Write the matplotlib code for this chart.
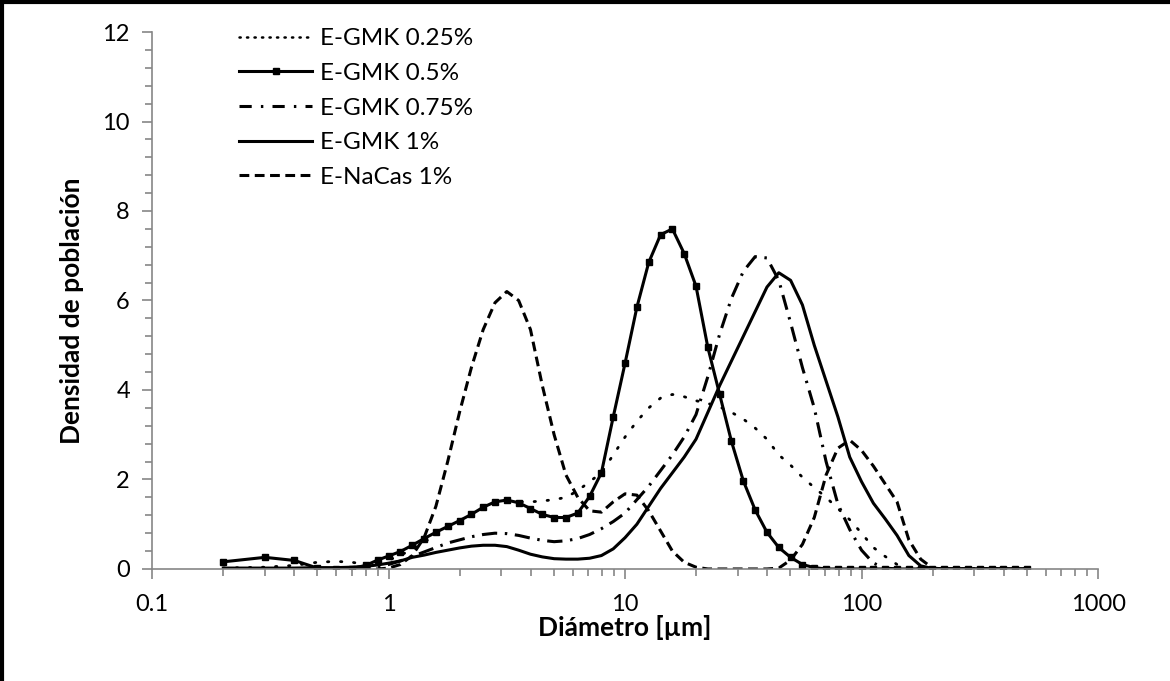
import numpy as np
import matplotlib
matplotlib.use("Agg")
import matplotlib.pyplot as plt
from matplotlib.ticker import FixedLocator, MultipleLocator, NullFormatter
from matplotlib.lines import Line2D

plt.rcParams['font.family'] = ['Lato', 'DejaVu Sans']

# particle size grid (um)
diam = [0.2, 0.3, 0.4, 0.5, 0.6, 0.7, 0.8, 0.9,
        1.0, 1.122, 1.259, 1.413, 1.585, 1.778, 1.995, 2.239, 2.512, 2.818,
        3.162, 3.548, 3.981, 4.467, 5.012, 5.623, 6.310, 7.079, 7.943, 8.913,
        10.0, 11.22, 12.59, 14.13, 15.85, 17.78, 19.95, 22.39, 25.12, 28.18,
        31.62, 35.48, 39.81, 44.67, 50.12, 56.23, 63.10, 70.79, 79.43, 89.13,
        100.0, 112.2, 125.9, 141.3, 158.5, 177.8, 199.5, 223.9, 251.2, 281.8,
        316.2, 354.8, 398.1, 446.7, 501.2]

gmk_025 = [0.02, 0.04, 0.08, 0.15, 0.17, 0.15, 0.10, 0.10,
           0.20, 0.30, 0.45, 0.60, 0.75, 0.90, 1.05, 1.20, 1.33, 1.45,
           1.50, 1.50, 1.50, 1.52, 1.55, 1.60, 1.75, 1.95, 2.15, 2.55,
           2.95, 3.30, 3.60, 3.82, 3.90, 3.85, 3.76, 3.70, 3.62, 3.50,
           3.35, 3.15, 2.90, 2.55, 2.32, 2.05, 1.82, 1.60, 1.35, 1.10,
           0.80, 0.48, 0.28, 0.10, 0.02, 0.0, 0.0, 0.0, 0.0, 0.0,
           0.0, 0.0, 0.0, 0.0, 0.0]

gmk_05 = [0.16, 0.26, 0.19, 0.02, 0.01, 0.01, 0.08, 0.20,
          0.29, 0.39, 0.53, 0.68, 0.82, 0.95, 1.08, 1.22, 1.38, 1.50,
          1.54, 1.48, 1.35, 1.22, 1.15, 1.15, 1.25, 1.62, 2.15, 3.40,
          4.60, 5.85, 6.85, 7.47, 7.60, 7.05, 6.32, 4.95, 3.90, 2.85,
          1.97, 1.32, 0.82, 0.48, 0.26, 0.10, 0.03, 0.0, 0.0, 0.0,
          0.0, 0.0, 0.0, 0.0, 0.0, 0.0, 0.0, 0.0, 0.0, 0.0,
          0.0, 0.0, 0.0, 0.0, 0.0]

gmk_075 = [0.0, 0.0, 0.0, 0.0, 0.0, 0.0, 0.01, 0.03,
           0.10, 0.18, 0.28, 0.38, 0.48, 0.58, 0.65, 0.72, 0.77, 0.80,
           0.79, 0.75, 0.69, 0.64, 0.61, 0.63, 0.68, 0.77, 0.90, 1.06,
           1.25, 1.55, 1.85, 2.20, 2.55, 2.95, 3.45, 4.30, 5.25, 6.05,
           6.65, 6.98, 6.95, 6.45, 5.50, 4.50, 3.60, 2.40, 1.45, 0.88,
           0.42, 0.13, 0.02, 0.0, 0.0, 0.0, 0.0, 0.0, 0.0, 0.0,
           0.0, 0.0, 0.0, 0.0, 0.0]

gmk_1 = [0.02, 0.02, 0.02, 0.03, 0.03, 0.04, 0.06, 0.09,
         0.13, 0.18, 0.26, 0.31, 0.37, 0.42, 0.47, 0.51, 0.53, 0.53,
         0.50, 0.42, 0.33, 0.27, 0.23, 0.22, 0.22, 0.24, 0.30, 0.45,
         0.70, 1.00, 1.40, 1.80, 2.15, 2.50, 2.90, 3.50, 4.10, 4.65,
         5.20, 5.75, 6.30, 6.62, 6.45, 5.90, 5.00, 4.20, 3.40, 2.50,
         1.95, 1.47, 1.12, 0.75, 0.30, 0.07, 0.01, 0.0, 0.0, 0.0,
         0.0, 0.0, 0.0, 0.0, 0.0]

nacas_1 = [0.0, 0.0, 0.0, 0.0, 0.0, 0.0, 0.0, 0.0,
           0.02, 0.10, 0.30, 0.70, 1.40, 2.40, 3.50, 4.50, 5.35, 5.95,
           6.20, 6.00, 5.35, 4.10, 3.00, 2.10, 1.60, 1.30, 1.27, 1.50,
           1.68, 1.65, 1.30, 0.85, 0.40, 0.15, 0.04, 0.0, 0.0, 0.0,
           0.0, 0.0, 0.0, 0.02, 0.20, 0.55, 1.15, 2.10, 2.70, 2.88,
           2.65, 2.30, 1.90, 1.50, 0.65, 0.22, 0.02, 0.0, 0.0, 0.0,
           0.0, 0.0, 0.0, 0.0, 0.0]

labels = ['E-GMK 0.25%', 'E-GMK 0.5%', 'E-GMK 0.75%', 'E-GMK 1%', 'E-NaCas 1%']

fig = plt.figure(figsize=(11.7, 6.81), dpi=100)
ax = fig.add_axes([0.130, 0.1645, 0.8085, 0.7885])

lw = 2.2
dot_style = (0, (0.5, 4.2))
dashdot_style = (0, (5, 2.5, 0.8, 2.5))
dash_style = (0, (3.2, 1.8))

ax.plot(diam, gmk_025, color='black', lw=2.0, linestyle=dot_style,
        dash_capstyle='round', label=labels[0])
ax.plot(diam, gmk_05, color='black', lw=lw, marker='s', markersize=4.2,
        label=labels[1])
ax.plot(diam, gmk_075, color='black', lw=lw, linestyle=dashdot_style,
        label=labels[2])
ax.plot(diam, gmk_1, color='black', lw=lw, label=labels[3])
ax.plot(diam, nacas_1, color='black', lw=lw, linestyle=dash_style,
        label=labels[4])

ax.set_xscale('log')
ax.set_xlim(0.1, 1000)
ax.set_ylim(0, 12)
ax.yaxis.set_major_locator(MultipleLocator(2))
ax.yaxis.set_minor_locator(MultipleLocator(0.4))
ax.xaxis.set_major_locator(FixedLocator([0.1, 1, 10, 100, 1000]))
ax.xaxis.set_minor_locator(FixedLocator([m * d for d in [0.1, 1, 10, 100] for m in range(2, 10)]))
ax.xaxis.set_minor_formatter(NullFormatter())
ax.set_xticklabels(['0.1', '1', '10', '100', '1000'])

grey = '#868686'
for s in ['top', 'right']:
    ax.spines[s].set_visible(False)
for s in ['left', 'bottom']:
    ax.spines[s].set_color(grey)
    ax.spines[s].set_linewidth(1.2)
ax.tick_params(which='both', direction='out', color=grey, width=1.2,
               labelsize=17)
ax.tick_params(axis='x', pad=11)
ax.tick_params(axis='y', pad=9)
ax.tick_params(which='major', length=7)
ax.tick_params(which='minor', length=5)

ax.set_xlabel('Diámetro [µm]', fontsize=19, fontweight='bold', labelpad=0)
ax.set_ylabel('Densidad de población', fontsize=19, fontweight='bold')
ax.yaxis.set_label_coords(-0.072, 0.48)

handles = [Line2D([], [], color='black', lw=1.8, linestyle=(0, (0.5, 2.5)), dash_capstyle='round'),
           Line2D([], [], color='black', lw=lw, marker='s', markersize=4.2, markevery=[1]),
           Line2D([], [], color='black', lw=lw, linestyle=(0, (4, 3, 0.8, 3))),
           Line2D([], [], color='black', lw=lw),
           Line2D([], [], color='black', lw=lw, linestyle=dash_style)]
for h in handles:
    h.set_data([0, 0.5, 1], [0, 0, 0])
ax.legend(handles, labels, loc='upper left', bbox_to_anchor=(0.082, 1.025),
          frameon=False, fontsize=17.5, handlelength=3.0, handletextpad=0.3,
          labelspacing=0.56, borderaxespad=0)

# outer frame (left and top edges only)
fig.add_artist(Line2D([0.002, 0.002], [0, 0.997], transform=fig.transFigure, color='black', lw=3))
fig.add_artist(Line2D([0.0, 1.0], [0.997, 0.997], transform=fig.transFigure, color='black', lw=3))

fig.savefig('out.png', dpi=100)
